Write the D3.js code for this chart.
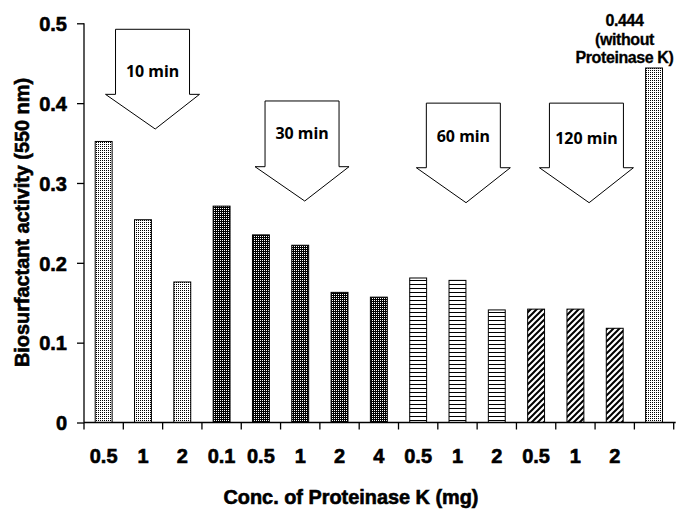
<!DOCTYPE html>
<html>
<head>
<meta charset="utf-8">
<script src="https://cdn.jsdelivr.net/npm/d3@7/dist/d3.min.js"></script>
<style>
  html, body { margin: 0; padding: 0; background: #fff; }
  svg { display: block; }
  text { font-family: Arial, "Liberation Sans", sans-serif; font-weight: bold; fill: #000; }
  .heavy { stroke: #000; stroke-width: 0.6px; }
</style>
</head>
<body>
<svg id="chart" width="694" height="515"></svg>
<script>
// ---- data ----
const categories = ["0.5", "1", "2", "0.1", "0.5", "1", "2", "4", "0.5", "1", "2", "0.5", "1", "2", ""];
const groups = ["10", "10", "10", "30", "30", "30", "30", "30", "60", "60", "60", "120", "120", "120", "ctrl"];
const values = [0.352, 0.254, 0.176, 0.271, 0.235, 0.222, 0.163, 0.157, 0.181, 0.178, 0.141, 0.142, 0.142, 0.118, 0.444];
const yTicks = [0, 0.1, 0.2, 0.3, 0.4, 0.5];
const yTickLabels = ["0", "0.1", "0.2", "0.3", "0.4", "0.5"];
// arrow annotations: label, centre (in band units), top, shaft bottom, tip, label y (value units)
const arrowLabels = ["10 min", "30 min", "60 min", "120 min"];
const arrowCenters = [1.743, 5.546, 9.649, 12.78];
const arrowTops = [0.4925, 0.4027, 0.400, 0.400];
const arrowShafts = [0.411, 0.3204, 0.3191, 0.3191];
const arrowTips = [0.3676, 0.2774, 0.2753, 0.2753];
const arrowTextY = [0.4394, 0.3622, 0.3588, 0.3563];
const controlNote = ["0.444", "(without", "Proteinase K)"];

const svg = d3.select("#chart");
const mLeft = 84, mRight = 673.7, mTop = 23.3, mBottom = 422.5;

const x = d3.scaleBand().domain(d3.range(categories.length)).range([mLeft, mRight])
  .paddingInner(0.57).paddingOuter(0.285);
const xi = d3.scaleLinear().domain([0, categories.length]).range([mLeft, mRight]);
const y = d3.scaleLinear().domain([0, 0.5]).range([mBottom, mTop]);

// ---- patterns ----
const defs = svg.append("defs");
function pat(id, w, h) {
  return defs.append("pattern").attr("id", id).attr("patternUnits", "userSpaceOnUse")
    .attr("width", w).attr("height", h);
}
let p = pat("light", 2, 2);
p.append("rect").attr("width", 2).attr("height", 2).attr("fill", "#fff");
p.append("rect").attr("width", 1).attr("height", 1).attr("fill", "#000");
p = pat("dark", 2, 2);
p.append("rect").attr("width", 2).attr("height", 2).attr("fill", "#000");
p.append("rect").attr("width", 1).attr("height", 1).attr("fill", "#fff");
p = pat("hlines", 4, 4);
p.append("rect").attr("width", 4).attr("height", 4).attr("fill", "#fff");
p.append("rect").attr("y", 0).attr("width", 4).attr("height", 1).attr("fill", "#000");
p = pat("diag", 6, 6);
p.append("rect").attr("width", 6).attr("height", 6).attr("fill", "#fff");
p.append("path").attr("d", "M-1,7 L7,-1 M-4,4 L4,-4 M2,10 L10,2")
  .attr("stroke", "#000").attr("stroke-width", 2);
const fillFor = { "10": "url(#light)", "30": "url(#dark)", "60": "url(#hlines)", "120": "url(#diag)", "ctrl": "url(#light)" };

// ---- bars ----
svg.append("g").selectAll("rect").data(values).join("rect")
  .attr("x", (d, i) => x(i))
  .attr("y", d => y(d))
  .attr("width", x.bandwidth())
  .attr("height", d => y(0) - y(d))
  .attr("fill", (d, i) => fillFor[groups[i]])
  .attr("stroke", "#000").attr("stroke-width", 1);

// ---- axes ----
const yAxis = d3.axisLeft(y).tickValues(yTicks).tickFormat((d, i) => yTickLabels[i]).tickSize(7).tickPadding(10);
const gy = svg.append("g").attr("transform", `translate(${mLeft},0)`).call(yAxis);
gy.select(".domain").attr("d", `M0,${mTop}V${mBottom}`).attr("stroke", "#000").attr("stroke-width", 1.3);
gy.selectAll(".tick line").attr("stroke", "#000").attr("stroke-width", 1.3);
gy.selectAll(".tick text").attr("font-size", 20).attr("font-family", "Arial, 'Liberation Sans', sans-serif")
  .attr("font-weight", "bold").attr("class", "heavy").attr("dy", "0.36em").attr("x", -17);

const boundaries = d3.range(categories.length + 1).map(i => xi(i));
const gx = svg.append("g");
gx.append("line").attr("x1", mLeft).attr("x2", mRight + 2).attr("y1", mBottom).attr("y2", mBottom)
  .attr("stroke", "#000").attr("stroke-width", 1.3);
gx.selectAll("line.tk").data(boundaries).join("line").attr("class", "tk")
  .attr("x1", d => d).attr("x2", d => d).attr("y1", mBottom).attr("y2", mBottom + 7)
  .attr("stroke", "#000").attr("stroke-width", 1.3);
gx.selectAll("text").data(categories).join("text")
  .attr("x", (d, i) => x(i) + x.bandwidth() / 2)
  .attr("y", 462.5).attr("class", "heavy")
  .attr("text-anchor", "middle").attr("font-size", 20)
  .text(d => d);

// ---- titles ----
svg.append("text").attr("x", 351).attr("y", 504).attr("text-anchor", "middle").attr("class", "heavy")
  .attr("font-size", 20).attr("textLength", 255).attr("lengthAdjust", "spacingAndGlyphs")
  .text("Conc. of Proteinase K (mg)");
svg.append("text").attr("transform", "translate(29,222.5) rotate(-90)").attr("text-anchor", "middle")
  .attr("class", "heavy")
  .attr("font-size", 20).attr("textLength", 289).attr("lengthAdjust", "spacingAndGlyphs")
  .text("Biosurfactant activity (550 nm)");

// ---- arrows ----
const shaftW = 74, wingW = 94, tipOff = 2.7;
const ga = svg.append("g");
arrowLabels.forEach((lab, i) => {
  const cx = xi(arrowCenters[i]);
  const t = y(arrowTops[i]), s = y(arrowShafts[i]), tp = y(arrowTips[i]);
  const pts = [
    [cx - shaftW / 2, t], [cx + shaftW / 2, t], [cx + shaftW / 2, s], [cx + wingW / 2, s],
    [cx + tipOff, tp], [cx - wingW / 2, s], [cx - shaftW / 2, s]
  ];
  ga.append("path").attr("d", "M" + pts.map(q => q.join(",")).join("L") + "Z")
    .attr("fill", "#fff").attr("stroke", "#000").attr("stroke-width", 1);
  ga.append("text").attr("x", cx).attr("y", y(arrowTextY[i])).attr("dy", "0.36em")
    .attr("text-anchor", "middle").attr("font-size", 16)
    .style("font-family", "'Noto Sans', 'Open Sans', sans-serif")
    .text(lab);
});

// ---- control note ----
const noteX = 624.5, noteBase = [0.4970, 0.4734, 0.4503];
svg.append("g").selectAll("text").data(controlNote).join("text")
  .attr("x", noteX).attr("y", (d, i) => y(noteBase[i]))
  .attr("text-anchor", "middle").attr("font-size", 16).attr("letter-spacing", -0.4)
  .attr("class", "heavy").style("stroke-width", "0.3px")
  .text(d => d);
</script>
</body>
</html>
